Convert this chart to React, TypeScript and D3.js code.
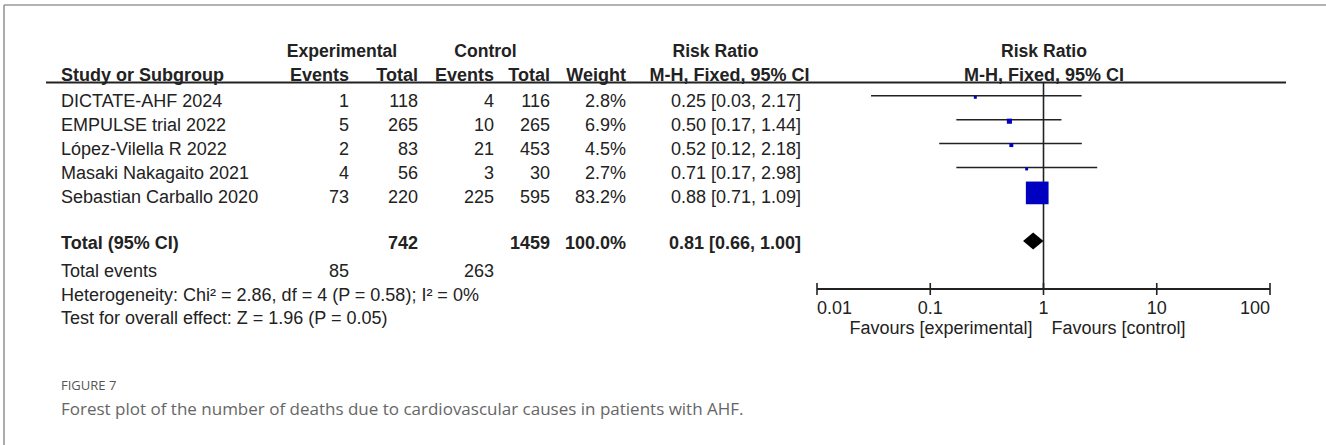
import React from "react";
import * as d3 from "d3";

// Study-level data
const studies = [
  "DICTATE-AHF 2024",
  "EMPULSE trial 2022",
  "López-Vilella R 2022",
  "Masaki Nakagaito 2021",
  "Sebastian Carballo 2020",
];
const expEvents = [1, 5, 2, 4, 73];
const expTotal = [118, 265, 83, 56, 220];
const ctrlEvents = [4, 10, 21, 3, 225];
const ctrlTotal = [116, 265, 453, 30, 595];
const weights = [2.8, 6.9, 4.5, 2.7, 83.2];
const riskRatio = [0.25, 0.5, 0.52, 0.71, 0.88];
const ciLow = [0.03, 0.17, 0.12, 0.17, 0.71];
const ciHigh = [2.17, 1.44, 2.18, 2.98, 1.09];

// Pooled estimate
const pooled = { rr: 0.81, low: 0.66, high: 1.0 };
const totals = { exp: 742, ctrl: 1459, weight: 100.0, expEvents: 85, ctrlEvents: 263 };
const heterogeneity = "Heterogeneity: Chi² = 2.86, df = 4 (P = 0.58); I² = 0%";
const overallEffect = "Test for overall effect: Z = 1.96 (P = 0.05)";

// Axis
const axisTicks = [0.01, 0.1, 1, 10, 100];
const axisTickLabels = ["0.01", "0.1", "1", "10", "100"];

const W = 1326;
const H = 445;
const FONT = "'Liberation Sans', Arial, sans-serif";
const FS = 18;
const INK = "#222";
const HALF_CAP = 6.4;

const rowCenter = (i: number) => 100.8 + i * 23.9;
const totalCenter = 243;

const x = d3.scaleLog().domain([0.01, 100]).range([817, 1270]);
const boxSide = d3.scalePow().exponent(0.6).domain([0, 83.2]).range([0, 22.7]);

const fmtRR = (v: number) => d3.format(".2f")(v);
const ciText = (r: number, l: number, h: number) => `${fmtRR(r)} [${fmtRR(l)}, ${fmtRR(h)}]`;

const col = { expEv: 349, expTot: 418, ctlEv: 494, ctlTot: 550, weight: 626, ci: 801 };

export default function App() {
  const axisY = 289;
  const headerLineY = 82.5;
  const text = (props: any, content: React.ReactNode) => (
    <text fontFamily={FONT} fontSize={FS} fill={INK} {...props}>
      {content}
    </text>
  );
  const dy = totalCenter - 2;
  const diamond =
    d3.line()([
      [x(pooled.low), dy],
      [x(pooled.rr), dy - 8.6],
      [x(pooled.high), dy],
      [x(pooled.rr), dy + 8.6],
    ]) + "Z";

  return (
    <svg width={W} height={H} style={{ position: "absolute", left: 0, top: 0, background: "#fff" }}>
      <rect width={W} height={H} fill="#fff" />
      {/* frame */}
      <line x1={4} x2={W} y1={5} y2={5} stroke="#999" strokeWidth={1.6} />
      <line x1={4} x2={4} y1={5} y2={H} stroke="#888" strokeWidth={1.4} />

      {/* column headers */}
      <g fontWeight="bold">
        {text({ x: 342, y: 56.5, textAnchor: "middle", fontSize: 17.6 }, "Experimental")}
        {text({ x: 485.5, y: 56.5, textAnchor: "middle", fontSize: 17.6 }, "Control")}
        {text({ x: 715.5, y: 56.5, textAnchor: "middle", fontSize: 17.6 }, "Risk Ratio")}
        {text({ x: 1044, y: 56.5, textAnchor: "middle", fontSize: 17.6 }, "Risk Ratio")}
        {text({ x: 61, y: 80.5 }, "Study or Subgroup")}
        {text({ x: col.expEv, y: 80.5, textAnchor: "end" }, "Events")}
        {text({ x: col.expTot, y: 80.5, textAnchor: "end" }, "Total")}
        {text({ x: col.ctlEv, y: 80.5, textAnchor: "end" }, "Events")}
        {text({ x: col.ctlTot, y: 80.5, textAnchor: "end" }, "Total")}
        {text({ x: col.weight, y: 80.5, textAnchor: "end" }, "Weight")}
        {text({ x: 729.5, y: 80.5, textAnchor: "middle" }, "M-H, Fixed, 95% CI")}
        {text({ x: 1044, y: 80.5, textAnchor: "middle" }, "M-H, Fixed, 95% CI")}
      </g>
      <line x1={46} x2={1286} y1={headerLineY} y2={headerLineY} stroke={INK} strokeWidth={2} />

      {/* study rows */}
      {studies.map((s, i) => {
        const b = rowCenter(i) + HALF_CAP;
        return (
          <g key={s}>
            {text({ x: 61, y: b }, s)}
            {text({ x: col.expEv, y: b, textAnchor: "end" }, expEvents[i])}
            {text({ x: col.expTot, y: b, textAnchor: "end" }, expTotal[i])}
            {text({ x: col.ctlEv, y: b, textAnchor: "end" }, ctrlEvents[i])}
            {text({ x: col.ctlTot, y: b, textAnchor: "end" }, ctrlTotal[i])}
            {text({ x: col.weight, y: b, textAnchor: "end" }, `${weights[i].toFixed(1)}%`)}
            {text({ x: col.ci, y: b, textAnchor: "end" }, ciText(riskRatio[i], ciLow[i], ciHigh[i]))}
          </g>
        );
      })}

      {/* totals */}
      <g fontWeight="bold">
        {text({ x: 61, y: totalCenter + HALF_CAP }, "Total (95% CI)")}
        {text({ x: col.expTot, y: totalCenter + HALF_CAP, textAnchor: "end" }, totals.exp)}
        {text({ x: col.ctlTot, y: totalCenter + HALF_CAP, textAnchor: "end" }, totals.ctrl)}
        {text({ x: col.weight, y: totalCenter + HALF_CAP, textAnchor: "end" }, `${totals.weight.toFixed(1)}%`)}
        {text({ x: col.ci, y: totalCenter + HALF_CAP, textAnchor: "end" }, ciText(pooled.rr, pooled.low, pooled.high))}
      </g>
      {text({ x: 61, y: 276.5 }, "Total events")}
      {text({ x: col.expEv, y: 276.5, textAnchor: "end" }, totals.expEvents)}
      {text({ x: col.ctlEv, y: 276.5, textAnchor: "end" }, totals.ctrlEvents)}
      {text({ x: 61, y: 300.5 }, heterogeneity)}
      {text({ x: 61, y: 324 }, overallEffect)}

      {/* forest plot */}
      <line x1={x(1)} x2={x(1)} y1={headerLineY} y2={axisY} stroke={INK} strokeWidth={1.6} />
      {studies.map((s, i) => {
        const cy = rowCenter(i) - 5;
        const side = boxSide(weights[i]);
        return (
          <g key={"p" + s}>
            <line x1={x(ciLow[i])} x2={x(ciHigh[i])} y1={cy} y2={cy} stroke={INK} strokeWidth={1.5} />
            <rect
              x={x(riskRatio[i]) - side / 2}
              y={cy + 1.5 - side / 2}
              width={side}
              height={side}
              fill="#0000c0"
            />
          </g>
        );
      })}
      <path d={diamond} fill="#000" />

      {/* axis */}
      <line x1={x(0.01)} x2={x(100)} y1={axisY} y2={axisY} stroke={INK} strokeWidth={2} />
      {axisTicks.map((t, i) => (
        <g key={t}>
          <line x1={x(t)} x2={x(t)} y1={axisY - 6} y2={axisY + 6} stroke={INK} strokeWidth={1.6} />
          {text(
            {
              x: x(t),
              y: 314,
              textAnchor: i === 0 ? "start" : i === axisTicks.length - 1 ? "end" : "middle",
            },
            axisTickLabels[i]
          )}
        </g>
      ))}
      {text({ x: x(1) - 11, y: 334, textAnchor: "end" }, "Favours [experimental]")}
      {text({ x: x(1) + 8, y: 334 }, "Favours [control]")}

      {/* caption */}
      <text x={61} y={389.5} fontFamily="'Open Sans', sans-serif" fontSize={13} fill="#555">
        FIGURE 7
      </text>
      <text x={61} y={414.5} fontFamily="'Open Sans', sans-serif" fontSize={17} fill="#666">
        Forest plot of the number of deaths due to cardiovascular causes in patients with AHF.
      </text>
    </svg>
  );
}
